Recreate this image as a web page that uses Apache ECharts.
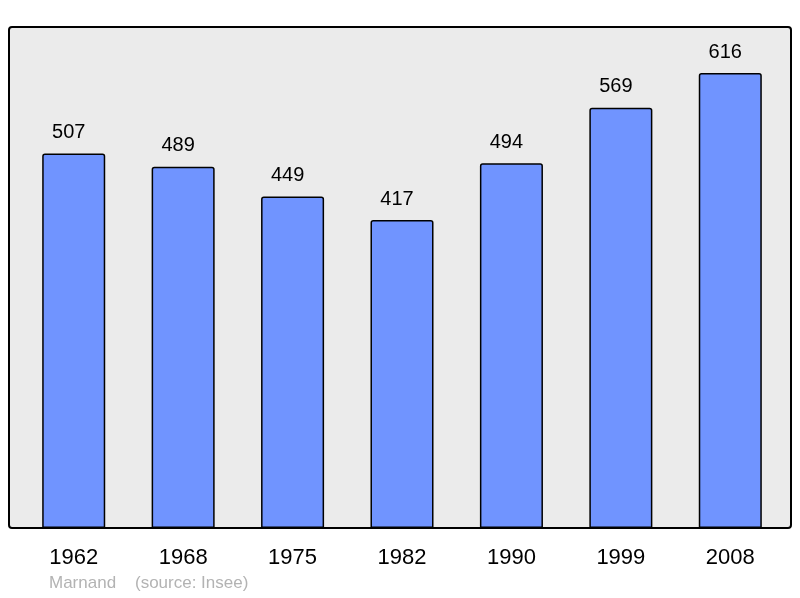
<!DOCTYPE html>
<html>
<head>
<meta charset="utf-8">
<script src="https://cdn.jsdelivr.net/npm/echarts@6/dist/echarts.min.js"></script>
<style>
  html, body { margin: 0; padding: 0; background: #fff; }
  #chart { width: 800px; height: 598px; }
</style>
</head>
<body>
<div id="chart"></div>
<script>
// 年份与人口
const years = ["1962", "1968", "1975", "1982", "1990", "1999", "2008"];
const population = [507, 489, 449, 417, 494, 569, 616];
const footerText = "Marnand    (source: Insee)";

const myChart = echarts.init(document.getElementById("chart"));

const option = {
  animation: false,
  graphic: [
    {
      type: "rect",
      z: -10,
      shape: { x: 9, y: 27, width: 782, height: 501, r: 3 },
      style: { fill: "#ebebeb", stroke: "#000", lineWidth: 2 },
    },
    {
      type: "text",
      left: 49,
      top: 575,
      style: {
        text: footerText,
        fill: "#b3b3b3",
        font: '17px "Liberation Sans", Arial, sans-serif',
      },
    },
  ],
  grid: {
    left: 19,
    right: 15,
    top: 11,
    bottom: 70,
  },
  xAxis: {
    type: "category",
    data: years,
    axisLine: { show: false },
    axisTick: { show: false },
    axisLabel: {
      color: "#000",
      fontSize: 22,
      fontFamily: '"Liberation Sans", Arial, sans-serif',
      margin: 19,
    },
  },
  yAxis: {
    type: "value",
    min: 0,
    max: 700,
    show: false,
    splitLine: { show: false },
  },
  series: [
    {
      type: "bar",
      data: population,
      barWidth: "57.6%",
      itemStyle: {
        color: "#7094ff",
        borderColor: "#000",
        borderWidth: 1.5,
        borderRadius: [2, 2, 0, 0],
      },
      label: {
        show: true,
        position: "top",
        distance: 11,
        offset: [-5, 0],
        color: "#000",
        fontSize: 20,
        fontFamily: '"Liberation Sans", Arial, sans-serif',
      },
    },
  ],
};

myChart.setOption(option);
</script>
</body>
</html>
